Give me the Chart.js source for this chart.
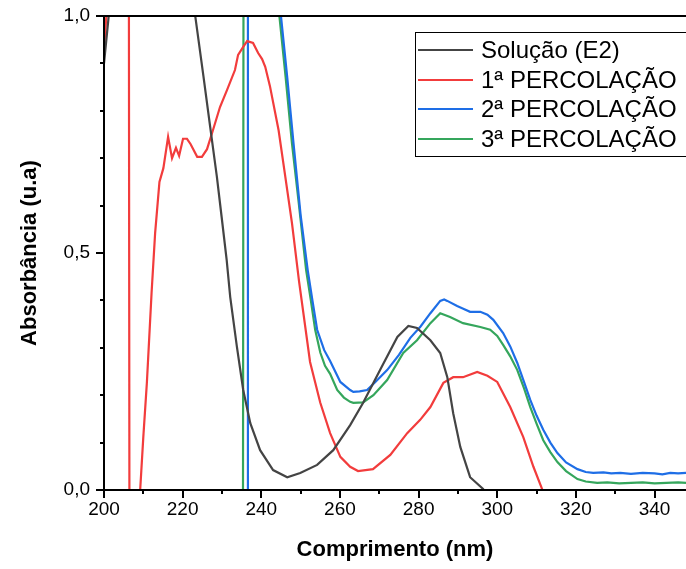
<!DOCTYPE html>
<html lang="pt">
<head>
<meta charset="utf-8">
<title>Absorbância x Comprimento</title>
<script src="https://cdn.jsdelivr.net/npm/chart.js@4.4.1/dist/chart.umd.min.js"></script>
<style>
    html, body { margin: 0; padding: 0; background: #fff; }
    #wrap { width: 686px; height: 569px; }
</style>
</head>
<body>
<div id="wrap"><canvas id="chart"></canvas></div>
<script>
// Solução (E2)
const solucaoX = [200, 201.2, 202.5, 222.5, 223.2, 225.3, 227.0, 228.7, 229.9, 231.2, 232.1, 233.8, 235.4, 237.2, 239.7,
    243.0, 246.6, 249.9, 254.2, 258.3, 262.6, 265.9, 270.2, 274.6, 277.4, 279.6, 283.0, 285.5, 287.3, 288.8,
    290.6, 293.1, 296.4, 298, 348];
const solucaoY = [0.90, 1.0, 1.2, 1.2, 1.0, 0.872, 0.766, 0.661, 0.577, 0.485, 0.407, 0.302, 0.211, 0.141, 0.084,
    0.042, 0.027, 0.036, 0.053, 0.084, 0.137, 0.184, 0.253, 0.323, 0.346, 0.342, 0.316, 0.289, 0.238, 0.162,
    0.091, 0.027, 0.002, -0.02, -0.02];

// 1ª percolação
const perc1X = [200, 200.6, 201, 206.3, 206.5, 209.0, 209.2, 210.0, 210.9, 212.1, 213.0, 214.1, 215.1, 216.3, 217.3,
    218.3, 219.1, 220.1, 221.1, 222.0, 223.7, 224.9, 226.2, 227.7, 229.5, 231.3, 233.3, 234.1, 235.4, 236.4,
    237.9, 239.2, 240.2, 241.0, 242.2, 244.4, 246.1, 247.8, 249.6, 252.4, 255.0, 257.5, 260.1, 262.6, 264.6,
    268.4, 272.8, 277.1, 280.4, 283.0, 286.3, 288.8, 291.3, 294.9, 297.5, 300.0, 303.3, 306.6, 309.2, 311.5, 312.5];
const perc1Y = [0.93, 1.0, 1.3, 1.3, -0.3, -0.3, 0, 0.112, 0.226, 0.416, 0.542, 0.650, 0.679, 0.745, 0.700,
    0.722, 0.705, 0.741, 0.741, 0.73, 0.703, 0.703, 0.719, 0.759, 0.808, 0.844, 0.886, 0.918, 0.935, 0.947,
    0.943, 0.922, 0.909, 0.893, 0.852, 0.759, 0.661, 0.563, 0.44, 0.27, 0.184, 0.12, 0.07, 0.049, 0.040,
    0.044, 0.074, 0.120, 0.148, 0.175, 0.226, 0.238, 0.238, 0.249, 0.241, 0.228, 0.175, 0.112, 0.049, 0.0, -0.05];

// 2ª percolação
const perc2X = [200, 207.0, 207.4, 236.4, 236.6, 244.6, 245.0, 246.6, 248.2, 250.0, 251.8, 253.0, 254.2, 256.0, 257.5,
    260.1, 262.6, 263.4, 265.0, 266.9, 269.0, 272.0, 275.0, 277.9, 280.5, 283.0, 285.5, 286.5, 287.3, 289.8,
    291.5, 293.1, 295.7, 297.5, 299.0, 301.5, 303.3, 305.1, 306.8, 308.4, 310.0, 311.7, 313.5, 315.3, 317.5,
    320.4, 322.5, 324.4, 327, 329, 331.3, 334, 337, 340, 342, 344, 346, 348];
const perc2Y = [0.0, 0.0, -0.4, -0.4, 1.3, 1.3, 1.0, 0.87, 0.731, 0.58, 0.464, 0.40, 0.338, 0.295, 0.272,
    0.228, 0.211, 0.207, 0.208, 0.211, 0.228, 0.253, 0.285, 0.321, 0.345, 0.373, 0.399, 0.402, 0.399, 0.388,
    0.382, 0.376, 0.376, 0.37, 0.359, 0.331, 0.303, 0.268, 0.228, 0.190, 0.157, 0.127, 0.10, 0.078, 0.058,
    0.044, 0.038, 0.036, 0.037, 0.035, 0.036, 0.034, 0.036, 0.035, 0.033, 0.036, 0.035, 0.036];

// 3ª percolação
const perc3X = [200, 207.0, 207.4, 235.3, 235.5, 244.1, 244.6, 246.2, 247.8, 249.6, 251.4, 252.6, 253.7, 255.0, 256.2,
    257.5, 259.3, 261.0, 262.6, 263.4, 265.9, 268.5, 272.0, 276.1, 279.6, 283.0, 285.5, 288.0, 291.3, 295.7,
    298.2, 300.0, 301.5, 303.3, 305.1, 306.8, 308.4, 310.0, 311.7, 313.5, 315.3, 317.5, 320.4, 322.5, 325.4,
    328, 331, 334, 337, 340, 343, 346, 348];
const perc3Y = [0.0, 0.0, -0.4, -0.4, 1.3, 1.3, 1.0, 0.87, 0.731, 0.60, 0.464, 0.40, 0.338, 0.29, 0.262,
    0.245, 0.211, 0.195, 0.186, 0.184, 0.185, 0.20, 0.232, 0.289, 0.316, 0.352, 0.373, 0.365, 0.352, 0.344,
    0.338, 0.325, 0.306, 0.282, 0.253, 0.215, 0.175, 0.14, 0.105, 0.08, 0.059, 0.04, 0.023, 0.018, 0.015,
    0.016, 0.014, 0.015, 0.016, 0.014, 0.015, 0.016, 0.015];

const seriesNames = ['Solução (E2)', '1ª PERCOLAÇÃO', '2ª PERCOLAÇÃO', '3ª PERCOLAÇÃO'];
const seriesColors = ['#444444', '#f23c3c', '#1e6ee6', '#35a65c'];

const fontFamily = '"Liberation Sans", Arial, sans-serif';

function toPoints(xs, ys) {
    return xs.map((x, i) => ({ x: x, y: ys[i] }));
}

// axis lines, tick marks and the boxed legend
const framePlugin = {
    id: 'frame',
    afterDraw(chart) {
        const { ctx, chartArea: a, scales } = chart;
        const xs = scales.x, ys = scales.y;
        ctx.save();
        ctx.strokeStyle = '#000';
        ctx.lineWidth = 2;
        ctx.beginPath();
        ctx.moveTo(a.left, a.top); ctx.lineTo(a.right, a.top);
        ctx.moveTo(a.left, a.top - 1); ctx.lineTo(a.left, a.bottom + 1);
        ctx.moveTo(a.left - 1, a.bottom); ctx.lineTo(a.right, a.bottom);
        for (let v = 200; v <= 340; v += 10) {
            const px = Math.round(xs.getPixelForValue(v));
            ctx.moveTo(px, a.bottom); ctx.lineTo(px, a.bottom + (v % 20 === 0 ? 8 : 4));
        }
        for (let i = 0; i <= 10; i++) {
            const py = Math.round(ys.getPixelForValue(i / 10));
            ctx.moveTo(a.left, py); ctx.lineTo(a.left - (i % 5 === 0 ? 8 : 4), py);
        }
        ctx.stroke();

        // legend
        ctx.lineWidth = 1;
        ctx.strokeRect(415.5, 32.5, 275, 124);
        ctx.font = '24px ' + fontFamily;
        ctx.textBaseline = 'middle';
        ctx.fillStyle = '#000';
        const rows = [50, 80, 109, 139];
        chart.data.datasets.forEach((ds, i) => {
            ctx.strokeStyle = ds.borderColor;
            ctx.lineWidth = 2;
            ctx.beginPath();
            ctx.moveTo(418, rows[i]); ctx.lineTo(473, rows[i]);
            ctx.stroke();
            ctx.fillText(ds.label, 481, rows[i] + 1);
        });
        ctx.restore();
    }
};

const allX = [solucaoX, perc1X, perc2X, perc3X];
const allY = [solucaoY, perc1Y, perc2Y, perc3Y];

new Chart(document.getElementById('chart'), {
    type: 'line',
    data: {
        datasets: seriesNames.map((name, i) => ({
            label: name,
            data: toPoints(allX[i], allY[i]),
            borderColor: seriesColors[i],
            borderWidth: 2.2,
            pointRadius: 0,
            tension: 0,
            fill: false
        }))
    },
    options: {
        responsive: true,
        maintainAspectRatio: false,
        animation: false,
        devicePixelRatio: 1,
        layout: { padding: { top: 16, right: 0, left: 0, bottom: 0 } },
        plugins: {
            legend: { display: false },
            tooltip: { enabled: false }
        },
        scales: {
            x: {
                type: 'linear',
                min: 200,
                max: 348,
                afterFit: (scale) => {
                    scale.height = 79;
                    scale.paddingLeft = 0;
                    scale.paddingRight = 0;
                },
                grid: { display: false, drawTicks: false },
                border: { display: false },
                ticks: {
                    stepSize: 20,
                    includeBounds: false,
                    padding: 8,
                    maxRotation: 0,
                    color: '#000',
                    font: { family: fontFamily, size: 19 },
                    callback: (v) => (v % 20 === 0 ? String(v) : '')
                },
                title: {
                    display: true,
                    text: 'Comprimento (nm)',
                    color: '#000',
                    font: { family: fontFamily, size: 22, weight: 'bold' },
                    padding: { top: 0, bottom: 6 }
                }
            },
            y: {
                type: 'linear',
                min: 0,
                max: 1,
                afterFit: (scale) => {
                    scale.width = 104;
                    scale.paddingTop = 0;
                    scale.paddingBottom = 0;
                },
                grid: { display: false, drawTicks: false },
                border: { display: false },
                ticks: {
                    stepSize: 0.5,
                    padding: 14,
                    color: '#000',
                    font: { family: fontFamily, size: 19 },
                    callback: (v) => v.toFixed(1).replace('.', ',')
                },
                title: {
                    display: true,
                    text: 'Absorbância (u.a)',
                    color: '#000',
                    font: { family: fontFamily, size: 22, weight: 'bold' },
                    padding: { top: 17, bottom: 0 }
                }
            }
        }
    },
    plugins: [framePlugin]
});
</script>
</body>
</html>
